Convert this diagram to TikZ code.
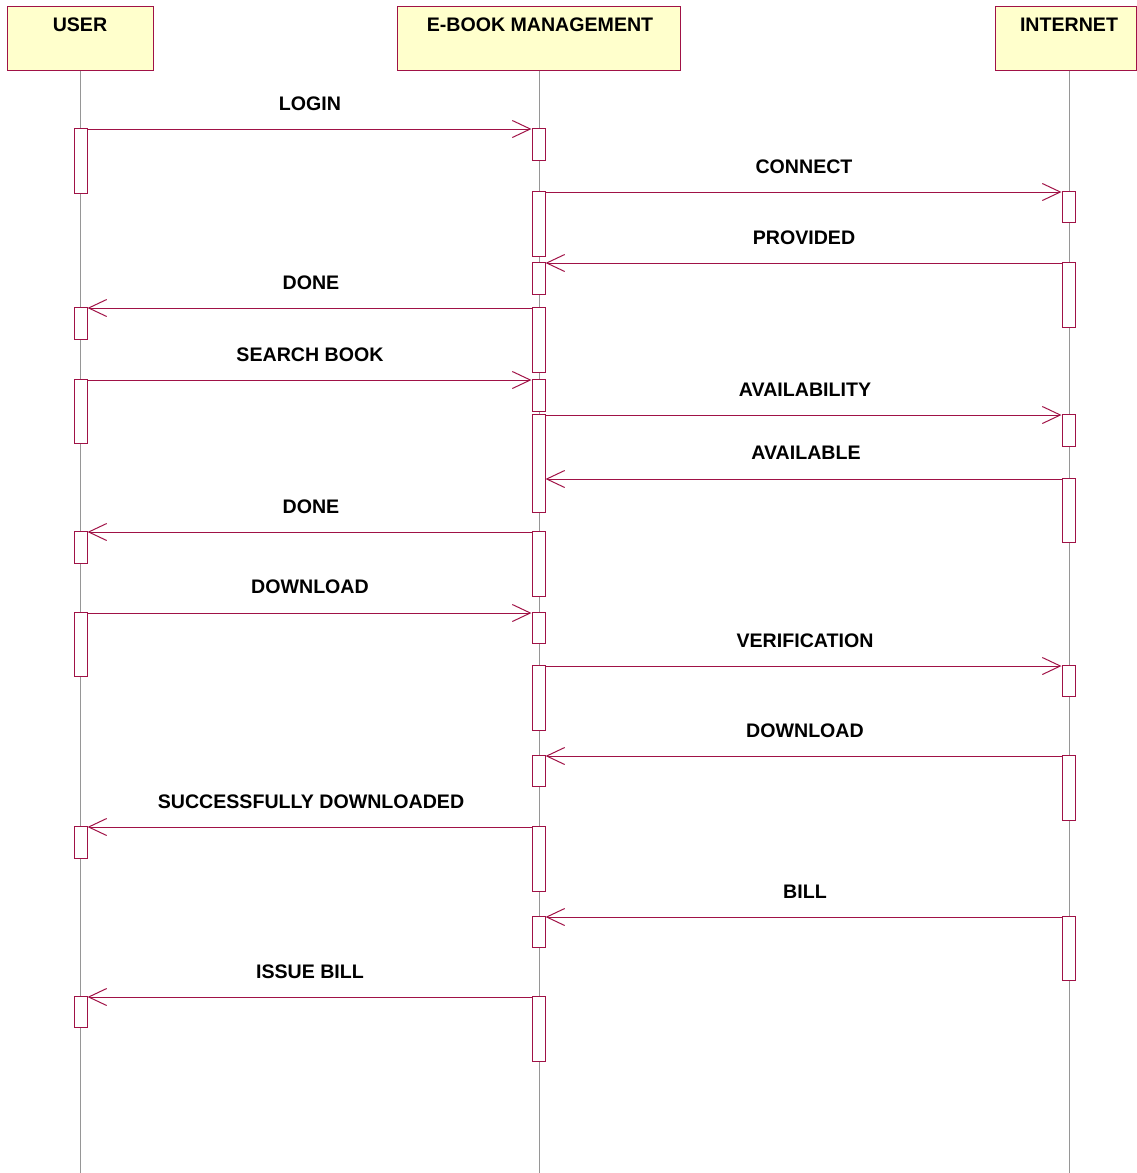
\documentclass[tikz,border=0pt]{standalone}
\usepackage{fontspec}
\setmainfont{Liberation Sans}
\usetikzlibrary{arrows.meta}
\definecolor{crim}{RGB}{160,18,70}
\definecolor{hdrfill}{RGB}{255,255,204}
\definecolor{lifegray}{RGB}{150,150,150}
\tikzset{
  hdr/.style={draw=crim, fill=hdrfill, line width=1pt, inner sep=0pt},
  hdrtext/.style={inner sep=0pt, font=\fontsize{19.6}{22}\selectfont\bfseries},
  act/.style={draw=crim, fill=white, line width=1pt, inner sep=0pt, minimum width=13pt},
  life/.style={draw=lifegray, line width=0.8pt},
  msg/.style={draw=crim, line width=1pt, transform canvas={yshift=-1.5pt}, -{Straight Barb[length=18pt,width=17pt,line width=1pt]}},
  lbl/.style={inner sep=0pt, anchor=south, yshift=-1pt, font=\fontsize{19.6}{22}\selectfont\bfseries}
}
\newcommand{\actbox}[4]{\node[act, minimum height=#4pt-#3pt] (#1) at (#2,{(#3+#4)/2}) {};}
\begin{document}
\begin{tikzpicture}[x=1pt,y=-1pt]
\useasboundingbox (0,0) rectangle (1137,1173);
% headers
\node[hdr, minimum width=146pt, minimum height=64pt] (huser) at (80,38) {};
\node[hdr, minimum width=283pt, minimum height=64pt] (hebm) at (538.5,38) {};
\node[hdr, minimum width=141pt, minimum height=64pt] (hint) at (1065.5,38) {};
\node[hdrtext] (tuser) at (80,24.5) {USER};
\node[hdrtext] (tebm) at (540,24.5) {E-BOOK MANAGEMENT};
\node[hdrtext] (tint) at (1069,24.5) {INTERNET};
% lifelines
\coordinate (enduser) at (80,1173);
\coordinate (endebm) at (539,1173);
\coordinate (endint) at (1069,1173);
\draw[life] (huser.south -| enduser) -- (enduser);
\draw[life] (hebm.south -| endebm) -- (endebm);
\draw[life] (hint.south -| endint) -- (endint);
% activation boxes USER
\actbox{u1}{80.5}{128}{193}
\actbox{u2}{80.5}{307}{339}
\actbox{u3}{80.5}{379}{443}
\actbox{u4}{80.5}{531}{563}
\actbox{u5}{80.5}{612}{676}
\actbox{u6}{80.5}{826}{858}
\actbox{u7}{80.5}{996}{1027}
% activation boxes EBM
\actbox{e1}{538.5}{128}{160}
\actbox{e2}{538.5}{191}{256}
\actbox{e3}{538.5}{262}{294}
\actbox{e4}{538.5}{307}{372}
\actbox{e5}{538.5}{379}{411}
\actbox{e6}{538.5}{414}{512}
\actbox{e7}{538.5}{531}{596}
\actbox{e8}{538.5}{612}{643}
\actbox{e9}{538.5}{665}{730}
\actbox{e10}{538.5}{755}{786}
\actbox{e11}{538.5}{826}{891}
\actbox{e12}{538.5}{916}{947}
\actbox{e13}{538.5}{996}{1061}
% activation boxes INTERNET
\actbox{i1}{1068.5}{191}{222}
\actbox{i2}{1068.5}{262}{327}
\actbox{i3}{1068.5}{414}{446}
\actbox{i4}{1068.5}{478}{542}
\actbox{i5}{1068.5}{665}{696}
\actbox{i6}{1068.5}{755}{820}
\actbox{i7}{1068.5}{916}{980}
% messages
\draw[msg] (u1.north east) -- (e1.north west);
\node[lbl] (m1) at (310,110) {LOGIN};
\draw[msg] (e2.north east) -- (i1.north west);
\node[lbl] (m2) at (804,173) {CONNECT};
\draw[msg] (i2.north west) -- (e3.north east);
\node[lbl] (m3) at (804,244) {PROVIDED};
\draw[msg] (e4.north west) -- (u2.north east);
\node[lbl] (m4) at (311,289) {DONE};
\draw[msg] (u3.north east) -- (e5.north west);
\node[lbl] (m5) at (310,361) {SEARCH BOOK};
\draw[msg] (e6.north east) -- (i3.north west);
\node[lbl] (m6) at (805,396) {AVAILABILITY};
\draw[msg] (i4.north west) -- (i4.north -| e6.east);
\node[lbl] (m7) at (806,459) {AVAILABLE};
\draw[msg] (e7.north west) -- (u4.north east);
\node[lbl] (m8) at (311,513) {DONE};
\draw[msg] (u5.north east) -- (e8.north west);
\node[lbl] (m9) at (310,593) {DOWNLOAD};
\draw[msg] (e9.north east) -- (i5.north west);
\node[lbl] (m10) at (805,647) {VERIFICATION};
\draw[msg] (i6.north west) -- (e10.north east);
\node[lbl] (m11) at (805,737) {DOWNLOAD};
\draw[msg] (e11.north west) -- (u6.north east);
\node[lbl] (m12) at (311,808) {SUCCESSFULLY DOWNLOADED};
\draw[msg] (i7.north west) -- (e12.north east);
\node[lbl] (m13) at (805,898) {BILL};
\draw[msg] (e13.north west) -- (u7.north east);
\node[lbl] (m14) at (310,978) {ISSUE BILL};
\end{tikzpicture}
\end{document}
